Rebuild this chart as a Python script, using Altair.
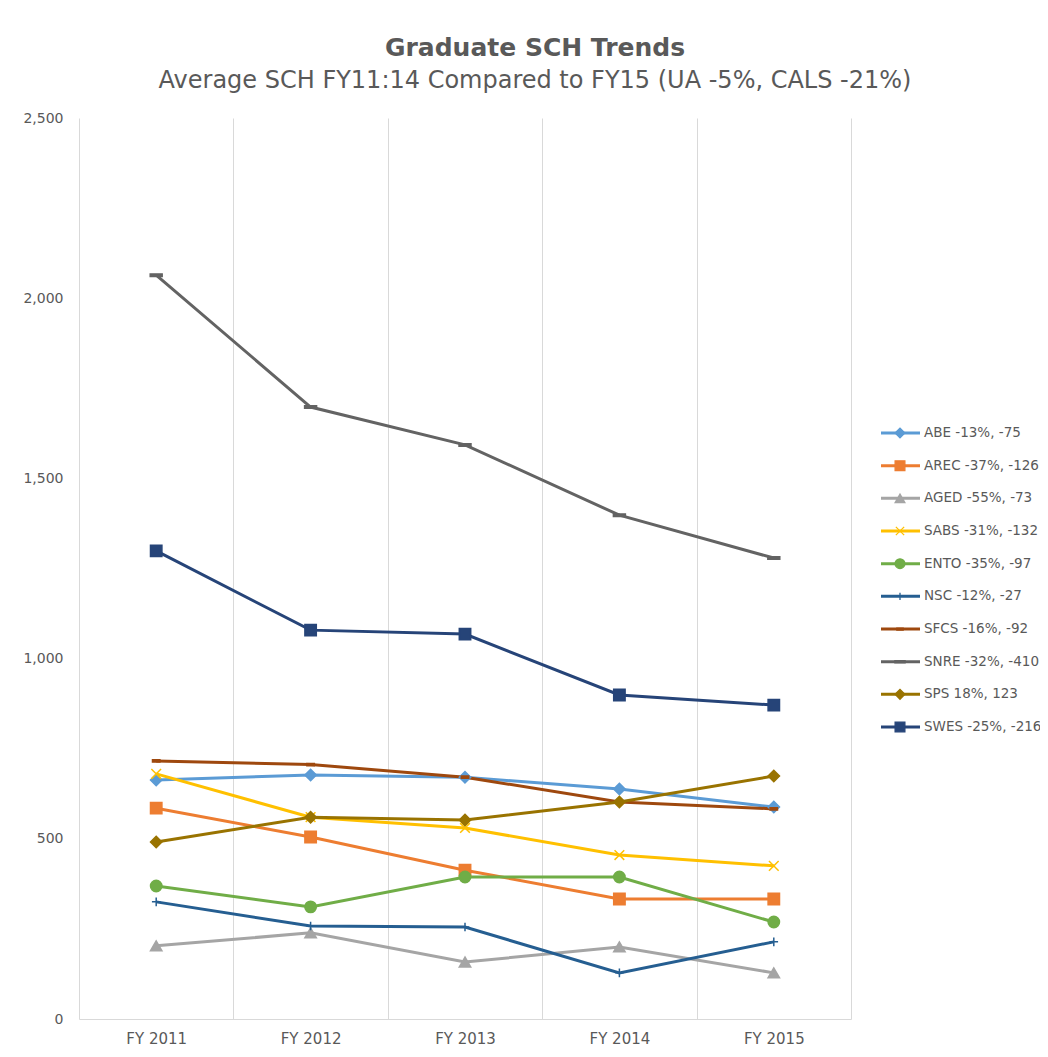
import altair as alt
import pandas as pd

years = ["FY 2011", "FY 2012", "FY 2013", "FY 2014", "FY 2015"]
series = ["ABE", "AREC", "AGED", "SABS", "ENTO", "NSC", "SFCS", "SNRE", "SPS", "SWES"]
legend_labels = [
    "ABE -13%, -75", "AREC -37%, -126", "AGED -55%, -73", "SABS -31%, -132",
    "ENTO -35%, -97", "NSC -12%, -27", "SFCS -16%, -92", "SNRE -32%, -410",
    "SPS 18%, 123", "SWES -25%, -216",
]
abe = [663, 677, 671, 638, 588]
arec = [585, 505, 413, 333, 333]
aged = [203, 239, 158, 200, 128]
sabs = [680, 560, 530, 455, 425]
ento = [369, 311, 394, 394, 269]
nsc = [325, 258, 255, 128, 214]
sfcs = [716, 706, 671, 602, 583]
snre = [2064, 1698, 1593, 1398, 1279]
sps = [491, 560, 552, 602, 674]
swes = [1299, 1079, 1068, 899, 871]
values = [abe, arec, aged, sabs, ento, nsc, sfcs, snre, sps, swes]
y_ticks = [0, 500, 1000, 1500, 2000, 2500]

colors = ["#5B9BD5", "#ED7D31", "#A5A5A5", "#FFC000", "#70AD47",
          "#255E91", "#9E480E", "#636363", "#997300", "#264478"]
shapes = [
    "diamond", "square", "triangle-up",
    "M-0.85,-0.85L0.85,0.85M-0.85,0.85L0.85,-0.85",
    "circle",
    "M-0.75,0H0.75M0,-0.75V0.75",
    "M-0.65,-0.2H0.65V0.2H-0.65Z",
    "M-1.05,-0.22H1.05V0.22H-1.05Z",
    "diamond", "square",
]

rows = []
for s, vals in zip(series, values):
    for i, (y, v) in enumerate(zip(years, vals)):
        rows.append({"series": s, "year": y, "order": i, "value": v})
df = pd.DataFrame(rows)
leg_df = pd.DataFrame({"series": series, "label": legend_labels})

color_scale = alt.Scale(domain=series, range=colors)
shape_scale = alt.Scale(domain=series, range=shapes)

x_enc = alt.X(
    "year:N", sort=years, title=None,
    scale=alt.Scale(type="band", paddingInner=0, paddingOuter=0),
    axis=alt.Axis(labelAngle=0, labelFont="DejaVu Sans", labelFontSize=15,
                  labelColor="#595959", labelPadding=12, ticks=False,
                  domainColor="#D9D9D9", domainWidth=1, grid=True,
                  gridColor="#D9D9D9", gridWidth=1, tickBand="extent"),
)
y_enc = alt.Y(
    "value:Q", title=None,
    scale=alt.Scale(domain=[0, 2500], nice=False),
    axis=alt.Axis(values=y_ticks, labelExpr="format(datum.value, ',')",
                  labelFont="DejaVu Sans", labelFontSize=14, labelColor="#595959",
                  labelPadding=16, ticks=False, domain=False, grid=False),
)

lines = alt.Chart(df).mark_line(strokeWidth=3).encode(
    x=x_enc, y=y_enc,
    color=alt.Color("series:N", scale=color_scale, legend=None),
    order="order:Q",
    detail="series:N",
)
points = alt.Chart(df).mark_point(filled=True, size=130, strokeWidth=1.5, opacity=1).encode(
    x=x_enc,
    y=y_enc,
    color=alt.Color("series:N", scale=color_scale, legend=None),
    stroke=alt.Stroke("series:N", scale=color_scale, legend=None),
    shape=alt.Shape("series:N", scale=shape_scale, legend=None),
)
main = alt.layer(lines, points)

leg_y = alt.Y("series:N", sort=series, axis=None,
              scale=alt.Scale(type="point", range=[315, 609], padding=0))
leg_rule = alt.Chart(leg_df).mark_rule(strokeWidth=3).encode(
    x=alt.value(802), x2=alt.value(841), y=leg_y,
    color=alt.Color("series:N", scale=color_scale, legend=None),
)
leg_pt = alt.Chart(leg_df).mark_point(filled=True, size=95, strokeWidth=1.3, opacity=1).encode(
    x=alt.value(821), y=leg_y,
    color=alt.Color("series:N", scale=color_scale, legend=None),
    stroke=alt.Stroke("series:N", scale=color_scale, legend=None),
    shape=alt.Shape("series:N", scale=shape_scale, legend=None),
)
leg_text = alt.Chart(leg_df).mark_text(
    align="left", baseline="middle", font="DejaVu Sans", fontSize=13.5, color="#595959"
).encode(x=alt.value(845), y=leg_y, text="label:N")
legend = alt.layer(leg_rule, leg_pt, leg_text)

chart = alt.layer(main, legend).resolve_scale(y="independent").properties(
    width=772, height=901,
    autosize=alt.AutoSizeParams(type="none"),
    padding={"left": 71, "top": 110, "right": 189, "bottom": 30},
    view=alt.ViewBackground(strokeWidth=0, stroke="transparent"),
    title=alt.TitleParams(
        text="Graduate SCH Trends",
        subtitle="Average SCH FY11:14 Compared to FY15 (UA -5%, CALS -21%)",
        anchor="middle", dx=70, offset=18,
        font="DejaVu Sans", fontSize=25, fontWeight="bold", color="#595959",
        subtitleFont="DejaVu Sans", subtitleFontSize=24, subtitleColor="#595959",
        subtitlePadding=8,
    ),
).configure_view(strokeWidth=0, stroke="transparent").configure_axisY(
    grid=False, domain=False
).configure(background="white")

chart.save("out.html", embed_options={"renderer": "svg", "actions": False})
